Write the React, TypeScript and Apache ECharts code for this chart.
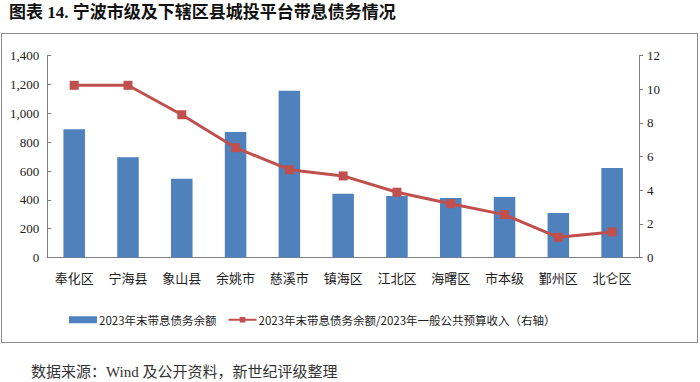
import React, { useEffect, useRef } from "react";
import * as echarts from "echarts";

const categories = ["奉化区", "宁海县", "象山县", "余姚市", "慈溪市", "镇海区", "江北区", "海曙区", "市本级", "鄞州区", "北仑区"];
const debtValues = [889, 695, 547, 871, 1157, 443, 427, 413, 420, 309, 621];
const ratioValues = [10.24, 10.24, 8.49, 6.53, 5.22, 4.85, 3.88, 3.2, 2.55, 1.2, 1.52];
const barName = "2023年末带息债务余额";
const lineName = "2023年末带息债务余额/2023年一般公共预算收入（右轴）";
const titleText = "图表 14. 宁波市级及下辖区县城投平台带息债务情况";
const sourceText = "数据来源：Wind 及公开资料，新世纪评级整理";

const SERIF = "'Liberation Serif', 'Times New Roman', 'Noto Sans CJK SC', serif";
const SANS = "'Noto Sans CJK SC', 'Noto Sans', sans-serif";

export default function App() {
  const ref = useRef<HTMLDivElement>(null);
  useEffect(() => {
    if (!ref.current) return;
    const chart = echarts.init(ref.current, null, { renderer: "svg" });
    chart.setOption({
      animation: false,
      backgroundColor: "#fff",
      title: {
        text: titleText,
        left: 4,
        top: -1,
        textStyle: { fontFamily: SERIF, fontWeight: "bold", fontSize: 17, color: "#111" },
      },
      graphic: [
        {
          type: "rect",
          shape: { x: 1.5, y: 33.5, width: 696, height: 309 },
          style: { fill: "none", stroke: "#8a8a8a", lineWidth: 1 },
          silent: true,
        },
        {
          type: "text",
          left: 31,
          top: 364,
          style: { text: sourceText, font: `15px ${SERIF}`, fill: "#333" },
        },
      ],
      legend: {
        left: 64,
        top: 309,
        itemGap: 11,
        itemWidth: 28,
        itemHeight: 7,
        textStyle: { fontFamily: SANS, fontSize: 11.5, color: "#222", padding: [0, 0, 0, -3] },
        data: [
          { name: barName, icon: "rect" },
          { name: lineName },
        ],
      },
      grid: { left: 47.3, right: 61, top: 55.7, bottom: 124.5 },
      xAxis: {
        type: "category",
        data: categories,
        axisLine: { lineStyle: { color: "#7f7f7f", width: 1 } },
        axisTick: { inside: true, length: 4, lineStyle: { color: "#7f7f7f" } },
        axisLabel: { fontFamily: SANS, fontSize: 13, color: "#222", margin: 13 },
      },
      yAxis: [
        {
          type: "value",
          min: 0,
          max: 1400,
          interval: 200,
          splitLine: { show: false },
          axisLine: { show: true, lineStyle: { color: "#7f7f7f" } },
          axisTick: { show: true, inside: true, length: 4, lineStyle: { color: "#7f7f7f" } },
          axisLabel: {
            fontFamily: SERIF,
            fontSize: 13,
            color: "#222",
            margin: 8,
            formatter: (v: number) => v.toLocaleString("en-US"),
          },
        },
        {
          type: "value",
          min: 0,
          max: 12,
          interval: 2,
          splitLine: { show: false },
          axisLine: { show: true, lineStyle: { color: "#7f7f7f" } },
          axisTick: { show: true, length: 4, lineStyle: { color: "#7f7f7f" } },
          axisLabel: { fontFamily: SERIF, fontSize: 13, color: "#222", margin: 8 },
        },
      ],
      series: [
        {
          name: barName,
          type: "bar",
          data: debtValues,
          barWidth: "40%",
          itemStyle: { color: "#4f81bd" },
        },
        {
          name: lineName,
          type: "line",
          yAxisIndex: 1,
          data: ratioValues,
          symbol: "rect",
          symbolSize: 9,
          lineStyle: { color: "#c0504d", width: 3 },
          itemStyle: { color: "#c0504d" },
        },
      ],
    });
    return () => chart.dispose();
  }, []);
  return <div ref={ref} style={{ position: "fixed", left: 0, top: 0, width: 700, height: 382 }} />;
}
